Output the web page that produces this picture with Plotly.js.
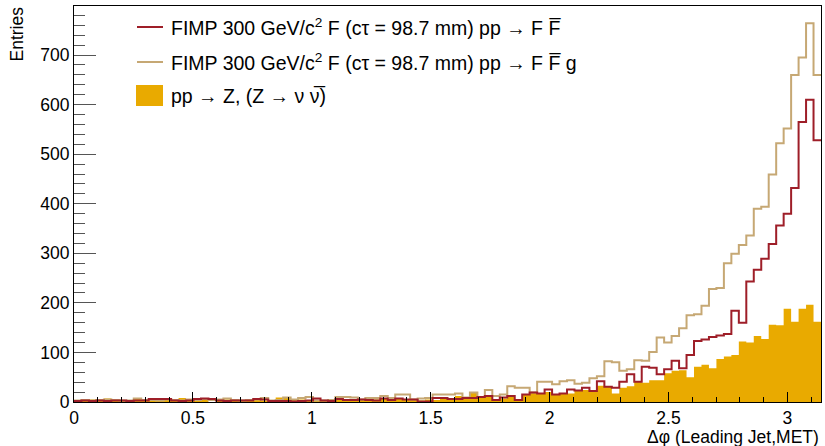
<!DOCTYPE html>
<html><head><meta charset="utf-8">
<script src="https://cdn.plot.ly/plotly-3.0.1.min.js"></script>
<style>html,body{margin:0;padding:0;background:#fff}#chart{width:825px;height:446px}</style>
</head><body><div id="chart"></div>
<script>
// Histogram binning: 100 bins over [0, pi]
const nBins = 100;
const xMin = 0, xMax = Math.PI;

// Entries per bin
const zNuNu = [
 4,3,5,3,7,6,3,4,8,3,
 4,3,5,4,8,4,3,6,0,3,
 5,4,3,4,6,3,4,9,8,4,
 5,3,4,3,5,7,4,3,6,4,
 5,8,4,6,5,6,3,5,4,6,
 7,12,6,19,8,14,4,7,10,2,
 14,18,16,20,14,16,17,22,24,20,
 33,31,17,29,32,41,39,44,44,58,
 63,64,50,71,75,68,87,92,95,122,
 120,133,127,156,155,188,162,188,196,162
];
const fimpFF = [
 2,3,2,3,2,3,3,2,3,3,
 6,6,6,3,2,3,6,7,6,3,
 2,3,3,3,6,5,2,2,2,1,
 2,3,7,3,2,6,4,4,5,4,
 3,7,4,7,5,5,1,1,8,8,
 6,6,8,8,10,12,4,9,12,4,
 15,19,17,25,15,17,25,23,29,22,
 42,31,29,41,56,41,71,69,56,66,
 83,68,95,123,126,131,134,137,184,160,
 243,267,289,319,356,380,432,565,610,528
];
const fimpFFg = [
 3,4,3,4,5,4,3,3,7,4,
 4,3,5,4,3,5,4,6,4,5,
 7,4,3,4,5,8,3,4,9,5,
 8,10,3,3,4,10,10,9,5,8,
 8,12,8,15,15,5,7,8,15,15,
 15,17,9,19,10,24,12,15,32,29,
 29,19,41,41,36,42,44,37,39,48,
 52,82,80,63,66,84,83,101,130,120,
 133,149,175,177,194,228,230,280,299,317,
 336,390,394,459,522,552,660,695,764,660
];

const seriesNames = [
 "FIMP 300 GeV/c<sup>2</sup> F (c\u03C4 = 98.7 mm) pp \u2192 F F\u0305",
 "FIMP 300 GeV/c<sup>2</sup> F (c\u03C4 = 98.7 mm) pp \u2192 F F\u0305 g",
 "pp \u2192 Z, (Z \u2192 \u03BD \u03BD\u0305)"
];
const xTitle = "\u0394\u03C6 (Leading Jet,MET)";
const yTitle = "Entries";
const colRed = "#9e1e28", colTan = "#c6a874", colFill = "#e9aa00";

const binEdges = [];
for (let i = 0; i <= nBins; i++) binEdges.push(xMin + i * (xMax - xMin) / nBins);
function stepY(v) { return v.concat([v[v.length - 1]]); }

const font = "Liberation Sans, Arial, Helvetica, sans-serif";

const traces = [
 {x: binEdges, y: stepY(zNuNu), type: "scatter", mode: "lines", line: {shape: "hv", width: 0, color: colFill},
  fill: "tozeroy", fillcolor: colFill, name: seriesNames[2], showlegend: false, hoverinfo: "skip"},
 {x: binEdges, y: stepY(fimpFFg), type: "scatter", mode: "lines", line: {shape: "hv", width: 2, color: colTan},
  name: seriesNames[1], showlegend: false, hoverinfo: "skip"},
 {x: binEdges, y: stepY(fimpFF), type: "scatter", mode: "lines", line: {shape: "hv", width: 2, color: colRed},
  name: seriesNames[0], showlegend: false, hoverinfo: "skip"}
];

const W = 825, H = 446, L = 74, R = 4, T = 6, B = 44;
const pw = W - L - R, ph = H - T - B;
function px(x) { return (x - L) / pw; }
function py(y) { return 1 - (y - T) / ph; }

const legendRows = [27, 62, 96];
const legFont = {family: font, size: 19.5, color: "#000"};
const annotations = [
 {text: seriesNames[0], x: 0, xref: "paper", xanchor: "left", xshift: 169 - L, y: 1, yref: "paper", yanchor: "middle", yshift: -(legendRows[0] - T), showarrow: false, font: legFont},
 {text: seriesNames[1], x: 0, xref: "paper", xanchor: "left", xshift: 169 - L, y: 1, yref: "paper", yanchor: "middle", yshift: -(legendRows[1] - T), showarrow: false, font: legFont},
 {text: seriesNames[2], x: 0, xref: "paper", xanchor: "left", xshift: 169 - L, y: 1, yref: "paper", yanchor: "middle", yshift: -(legendRows[2] - T), showarrow: false, font: legFont},
 {text: yTitle, textangle: -90, x: 0, xref: "paper", xanchor: "center", xshift: 16 - L, y: 1, yref: "paper", yanchor: "top", yshift: 1, showarrow: false, font: {family: font, size: 17.5, color: "#000"}},
 {text: xTitle, x: 1, xref: "paper", xanchor: "right", xshift: 0, y: 0, yref: "paper", yanchor: "middle", yshift: -35, showarrow: false, font: {family: font, size: 17.5, color: "#000"}}
];
const shapes = [
 {type: "line", xref: "paper", yref: "paper", x0: px(137), x1: px(163), y0: py(legendRows[0]), y1: py(legendRows[0]), line: {color: colRed, width: 2}},
 {type: "line", xref: "paper", yref: "paper", x0: px(137), x1: px(163), y0: py(legendRows[1]), y1: py(legendRows[1]), line: {color: colTan, width: 2}},
 {type: "rect", xref: "paper", yref: "paper", x0: px(136), x1: px(163), y0: py(106), y1: py(85), line: {width: 0}, fillcolor: colFill}
];

const layout = {
 width: W, height: H,
 margin: {l: L, r: R, t: T, b: B, pad: 0},
 paper_bgcolor: "#fff", plot_bgcolor: "#fff",
 showlegend: false,
 font: {family: font, size: 17, color: "#000"},
 xaxis: {range: [xMin, xMax], dtick: 0.5, tick0: 0, ticks: "inside", ticklen: 10, tickwidth: 1, tickcolor: "#000",
   showline: true, linecolor: "#000", linewidth: 1, mirror: true, showgrid: false, zeroline: false,
   tickfont: {family: font, size: 17.5, color: "#000"},
   minor: {dtick: 0.1, ticks: "inside", ticklen: 5, tickwidth: 1, tickcolor: "#000", showgrid: false}},
 yaxis: {range: [0, 799], dtick: 100, tick0: 0, ticks: "inside", ticklen: 22, tickwidth: 1, tickcolor: "#555",
   showline: true, linecolor: "#000", linewidth: 1, mirror: true, showgrid: false, zeroline: false,
   tickfont: {family: font, size: 17.5, color: "#000"},
   minor: {dtick: 20, ticks: "inside", ticklen: 11, tickwidth: 1, tickcolor: "#555", showgrid: false}},
 annotations: annotations,
 shapes: shapes
};

Plotly.newPlot("chart", traces, layout, {staticPlot: true, displayModeBar: false});
</script>
</body></html>
